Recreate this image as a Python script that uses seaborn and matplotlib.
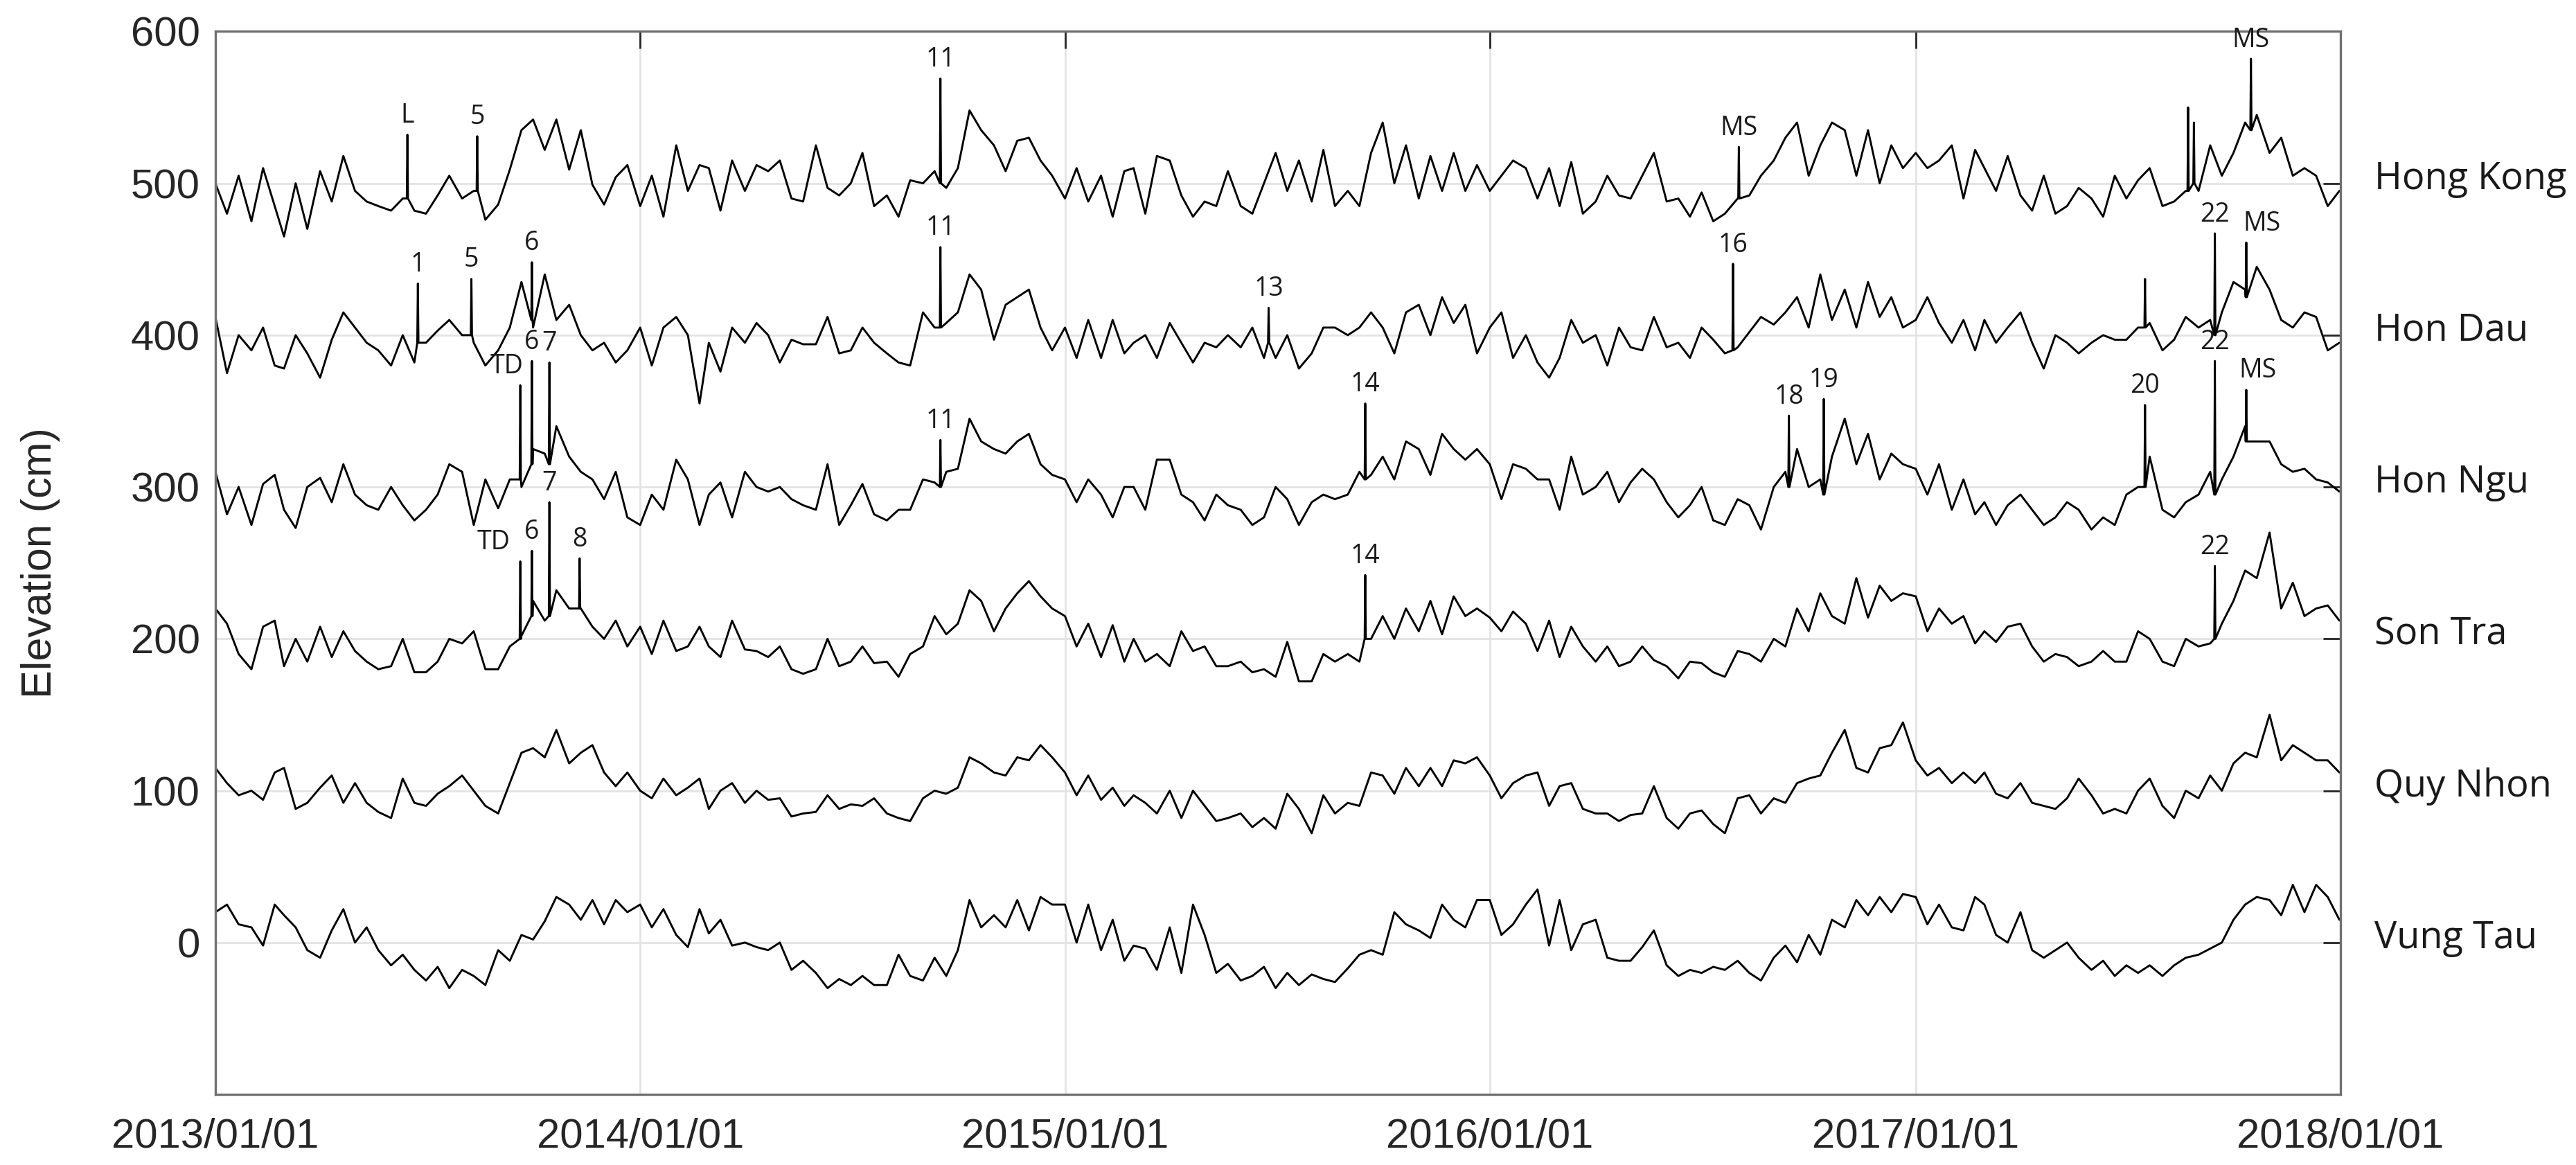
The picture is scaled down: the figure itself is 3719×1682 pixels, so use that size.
import numpy as np
import pandas as pd
import matplotlib
matplotlib.use('Agg')
import matplotlib.pyplot as plt
import matplotlib.dates as mdates
import matplotlib.transforms as mtransforms
import seaborn as sns

sns.set_style('white')
plt.rcParams['font.family'] = ['Liberation Sans', 'DejaVu Sans']

# stations, drawn stacked with a fixed vertical offset (cm)
stations = ['Hong Kong', 'Hon Dau', 'Hon Ngu', 'Son Tra', 'Quy Nhon', 'Vung Tau']
offsets = [500, 400, 300, 200, 100, 0]

# sampling dates: 1st, 11th, 21st of every month + last day
dates = [pd.Timestamp(y, m, d) for y in range(2013, 2018)
         for m in range(1, 13) for d in (1, 11, 21)]
dates.append(pd.Timestamp(2017, 12, 31))

# anomalies (cm) around each station offset, one row per year
hong_kong = (
    [0, -20, 5, -25, 10, -15, -35, 0, -30, 8, -12, 18, -5, -12, -15, -18, -10, -18,
     -20, -8, 5, -10, -5, -24, -14, 9, 35, 42, 22, 42, 9, 35, -1, -14, 4, 12]
    + [-15, 5, -22, 25, -5, 12, 10, -18, 15, -5, 12, 8, 15, -10, -12, 25, -3, -8,
       0, 20, -15, -8, -22, 2, 0, 8, -3, 10, 48, 35, 25, 8, 28, 30, 15, 5]
    + [-10, 10, -12, 5, -22, 8, 10, -20, 18, 15, -8, -22, -12, -15, 8, -15, -20, 0,
       20, -5, 15, -12, 22, -15, -5, -15, 20, 40, 0, 25, -10, 18, -5, 20, -5, 12]
    + [-5, 5, 15, 10, -10, 10, -15, 14, -20, -12, 5, -8, -10, 5, 20, -12, -10, -22,
       -6, -25, -20, -10, -8, 5, 15, 30, 40, 5, 25, 40, 35, 5, 35, 0, 25, 10]
    + [20, 10, 15, 25, -10, 22, 10, -5, 18, -8, -18, 5, -20, -15, -3, -10, -22, 5,
       -10, 2, 10, -15, -12, -5, -5, 25, 5, 20, 40, 45, 20, 30, 5, 10, 5, -15]
    + [-5])
hon_dau = (
    [12, -25, 0, -10, 5, -20, -22, 0, -12, -28, -3, 15, 5, -5, -10, -20, 0, -18,
     -5, 3, 10, 0, -5, -20, -10, 5, 35, 5, 40, 10, 20, 0, -10, -5, -18, -10]
    + [5, -20, 5, 12, 0, -45, -5, -24, 5, -5, 8, 0, -18, -3, -6, -6, 12, -12,
       -10, 5, -5, -12, -18, -20, 15, 5, 8, 15, 40, 30, -3, 20, 25, 30, 5, -10]
    + [5, -15, 10, -15, 10, -12, -5, 0, -15, 8, -5, -18, -5, -8, 0, -8, 5, -15,
       -15, 0, -22, -12, 5, 5, 0, 5, 15, 5, -12, 15, 20, 0, 25, 8, 20, -12]
    + [5, 15, -15, 0, -18, -28, -15, 10, -5, 0, -20, 5, -8, -10, 12, -8, -5, -15,
       5, -3, -12, -8, 2, 12, 7, 15, 25, 5, 40, 10, 30, 5, 35, 12, 25, 5]
    + [10, 25, 8, -5, 10, -10, 10, -5, 5, 15, -5, -22, 0, -5, -12, -5, 0, -3,
       -3, 5, 8, -10, -3, 12, 5, 10, 15, 35, 30, 45, 30, 10, 5, 15, 12, -10]
    + [-5])
hon_ngu = (
    [10, -18, 0, -25, 2, 8, -15, -27, 0, 6, -10, 15, -5, -12, -15, 0, -12, -22,
     -15, -5, 15, 10, -25, 5, -14, 5, 0, 25, 22, 40, 20, 10, 5, -8, 10, -20]
    + [-25, -5, -15, 18, 5, -25, -5, 3, -20, 10, 0, -3, 0, -8, -12, -15, 15, -25,
       -12, 2, -18, -22, -15, -15, 5, 3, 10, 12, 45, 30, 25, 22, 30, 35, 15, 8]
    + [5, -10, 5, -5, -20, 0, 0, -15, 18, 18, -5, -10, -22, -5, -12, -15, -25, -20,
       0, -8, -25, -10, -5, -8, -5, 10, 8, 20, 5, 30, 25, 8, 35, 25, 18, 25]
    + [15, -8, 15, 12, 5, 5, -15, 20, -5, 0, 10, -10, 3, 12, 5, -10, -20, -12,
       0, -22, -25, -8, -12, -28, 0, 10, 25, 0, 5, 20, 45, 15, 35, 5, 22, 15]
    + [12, -5, 15, -15, 5, -18, -10, -25, -12, -5, -15, -25, -20, -10, -15, -28, -20, -25,
       -5, 0, 20, -15, -20, -10, -5, 10, 5, 20, 40, 30, 30, 15, 10, 12, 5, 3]
    + [-3])
son_tra = (
    [20, 10, -10, -20, 8, 12, -18, 0, -15, 8, -12, 5, -8, -15, -20, -18, 0, -22,
     -22, -15, 0, -3, 5, -20, -20, -5, 2, 25, 12, 32, 20, 20, 8, 0, 12, -5]
    + [8, -10, 12, -8, -5, 8, -5, -12, 12, -7, -8, -12, -5, -20, -23, -20, 0, -18,
       -15, -5, -16, -15, -25, -10, -5, 15, 3, 10, 32, 25, 5, 20, 30, 38, 28, 20]
    + [15, -5, 10, -12, 9, -15, 0, -15, -10, -18, 5, -8, -5, -18, -18, -15, -22, -20,
       -25, -2, -28, -28, -10, -15, -10, -15, 0, 15, 0, 20, 5, 25, 3, 28, 15, 20]
    + [14, 5, 18, 10, -8, 12, -12, 8, -5, -15, -5, -18, -15, -5, -14, -18, -26, -15,
       -16, -22, -25, -8, -10, -15, 0, -5, 20, 5, 30, 15, 10, 40, 14, 35, 25, 30]
    + [28, 5, 20, 10, 15, -3, 5, -2, 8, 10, -5, -15, -10, -12, -18, -15, -8, -15,
       -15, 5, 0, -15, -18, 0, -5, -3, 10, 25, 45, 40, 70, 20, 37, 15, 20, 22]
    + [12])
quy_nhon = (
    [15, 5, -3, 0, -6, 12, 15, -12, -8, 2, 10, -8, 5, -8, -14, -18, 8, -8,
     -10, -2, 3, 10, 0, -10, -15, 5, 25, 28, 22, 40, 18, 25, 30, 12, 3, 12]
    + [0, -5, 8, -3, 2, 8, -12, 0, 5, -8, 0, -6, -5, -17, -15, -14, -3, -12,
       -9, -10, -5, -15, -18, -20, -5, 0, -2, 2, 22, 18, 12, 10, 22, 20, 30, 22]
    + [12, -3, 10, -6, 2, -10, -3, -8, -15, 0, -18, 0, -10, -20, -18, -15, -24, -18,
       -25, -2, -12, -28, -3, -15, -8, -10, 12, 10, -2, 15, 3, 15, 3, 20, 18, 22]
    + [10, -5, 5, 10, 12, -10, 3, 5, -12, -15, -15, -20, -16, -15, 3, -18, -25, -15,
       -13, -22, -28, -5, -3, -15, -5, -8, 5, 8, 10, 25, 40, 15, 12, 28, 30, 45]
    + [20, 10, 15, 5, 12, 5, 12, -2, -5, 5, -8, -10, -12, -5, 8, -3, -15, -12,
       -15, 0, 8, -10, -18, 0, -5, 10, 0, 18, 25, 22, 50, 20, 30, 25, 20, 20]
    + [12])
vung_tau = (
    [20, 25, 12, 10, -2, 25, 18, 10, -5, -10, 8, 22, 0, 10, -5, -15, -8, -18,
     -25, -16, -30, -18, -22, -28, -5, -12, 5, 2, 14, 30, 25, 15, 28, 12, 28, 20]
    + [25, 10, 22, 5, -3, 22, 6, 15, -2, 0, -3, -5, 0, -18, -12, -20, -30, -24,
       -28, -22, -28, -28, -8, -22, -25, -10, -22, -5, 28, 10, 18, 10, 28, 8, 30, 25]
    + [25, 0, 25, -5, 15, -12, -2, -4, -18, 10, -20, 25, 5, -20, -14, -25, -22, -16,
       -30, -20, -28, -21, -24, -26, -17, -8, -5, -8, 20, 12, 8, 3, 25, 15, 10, 28]
    + [28, 5, 12, 25, 35, -2, 28, -5, 12, 15, -10, -12, -12, -3, 8, -15, -22, -18,
       -20, -16, -18, -12, -20, -25, -10, -2, -13, 5, -8, 15, 10, 28, 18, 30, 20, 32]
    + [30, 12, 25, 10, 8, 30, 25, 5, 0, 20, -5, -10, -5, 0, -10, -18, -12, -22,
       -15, -20, -15, -22, -15, -10, -8, -4, 0, 15, 25, 30, 28, 18, 38, 20, 38, 30]
    + [15])

series = [hong_kong, hon_dau, hon_ngu, son_tra, quy_nhon, vung_tau]

# storm / surge peaks: station, date, peak anomaly, surrounding level, label
event_station = ['Hong Kong', 'Hong Kong', 'Hong Kong', 'Hong Kong', 'Hong Kong', 'Hong Kong', 'Hong Kong',
                 'Hon Dau', 'Hon Dau', 'Hon Dau', 'Hon Dau', 'Hon Dau', 'Hon Dau', 'Hon Dau', 'Hon Dau', 'Hon Dau',
                 'Hon Ngu', 'Hon Ngu', 'Hon Ngu', 'Hon Ngu', 'Hon Ngu', 'Hon Ngu', 'Hon Ngu', 'Hon Ngu', 'Hon Ngu', 'Hon Ngu',
                 'Son Tra', 'Son Tra', 'Son Tra', 'Son Tra', 'Son Tra', 'Son Tra']
event_date = ['2013-06-15', '2013-08-14', '2014-09-16', '2016-08-02', '2017-08-23', '2017-08-28', '2017-10-16',
              '2013-06-24', '2013-08-09', '2013-09-30', '2014-09-16', '2015-06-25', '2016-07-28', '2017-07-17',
              '2017-09-15', '2017-10-12',
              '2013-09-20', '2013-09-30', '2013-10-15', '2014-09-16', '2015-09-16', '2016-09-14', '2016-10-14',
              '2017-07-17', '2017-09-15', '2017-10-12',
              '2013-09-20', '2013-09-30', '2013-10-15', '2013-11-10', '2015-09-16', '2017-09-15']
event_peak = [32, 31, 69, 24, 50, 40, 82,
              34, 37, 48, 58, 18, 47, 37, 67, 61,
              67, 83, 82, 31, 55, 47, 58, 54, 83, 64,
              51, 58, 90, 53, 42, 48]
event_base = [-10, -5, 0, -10, -5, 0, 35,
              -5, 0, 10, 5, -5, -10, 5, 0, 25,
              5, 15, 15, 0, 5, 0, -5, 0, -5, 30,
              0, 15, 15, 20, 0, 0]
event_label = ['L', '5', '11', 'MS', '', '', 'MS',
               '1', '5', '6', '11', '13', '16', '', '22', 'MS',
               'TD', '6', '7', '11', '14', '18', '19', '20', '22', 'MS',
               'TD', '6', '7', '8', '14', '22']

# build long table
rows = []
for name, off, vals in zip(stations, offsets, series):
    assert len(vals) == len(dates)
    for d, v in zip(dates, vals):
        rows.append((name, d, v + off))
half = pd.Timedelta(hours=12)
for name, d, pk, bs in zip(event_station, event_date, event_peak, event_base):
    off = offsets[stations.index(name)]
    d = pd.Timestamp(d)
    rows += [(name, d - half, bs + off), (name, d, pk + off), (name, d + half, bs + off)]
df = pd.DataFrame(rows, columns=['station', 'date', 'elev'])

fig, ax = plt.subplots(figsize=(18.595, 8.41), dpi=200)
fig.subplots_adjust(left=0.0836, right=0.9086, top=0.973, bottom=0.0606)

sns.lineplot(data=df, x='date', y='elev', units='station', estimator=None,
             color='black', lw=1.05, ax=ax, legend=False)

# event labels
nudge = {('Hon Ngu', 'TD'): -7, ('Son Tra', 'TD'): -14, ('Hon Dau', 'MS'): 8,
         ('Hon Ngu', 'MS'): 6}
for name, d, pk, lab in zip(event_station, event_date, event_peak, event_label):
    if not lab:
        continue
    off = offsets[stations.index(name)]
    ax.annotate(lab, (pd.Timestamp(d), pk + off), xytext=(nudge.get((name, lab), 0), 3),
                textcoords='offset points', ha='center', va='bottom',
                fontsize=13.5, family=['Open Sans', 'DejaVu Sans'], color='#1a1a1a')

# station names on the right
trans = mtransforms.blended_transform_factory(ax.transAxes, ax.transData)
for name, off in zip(stations, offsets):
    ax.text(1.016, off + 3, name, transform=trans, ha='left', va='center',
            fontsize=19.5, family=['Open Sans', 'DejaVu Sans'], color='#1a1a1a')

ax.set_xlim(pd.Timestamp('2013-01-01'), pd.Timestamp('2018-01-01'))
ax.set_ylim(-100, 600)
ax.set_yticks(range(0, 601, 100))
ax.set_xticks([pd.Timestamp(f'{y}-01-01') for y in range(2013, 2019)])
ax.xaxis.set_major_formatter(mdates.DateFormatter('%Y/%m/%d'))
ax.grid(True, color='#e3e3e3', lw=1.0)
ax.set_axisbelow(True)
ax.tick_params(axis='both', direction='in', length=9, width=1.0, color='#262626',
               labelcolor='#262626', labelsize=21.5, top=True, right=True)
ax.tick_params(axis='x', pad=12)
ax.tick_params(axis='y', pad=8)
for sp in ax.spines.values():
    sp.set_color('#707070')
    sp.set_linewidth(1.2)

ax.set_xlabel('')
ax.set_ylabel('Elevation (cm)', fontsize=22, color='#262626')
ax.yaxis.set_label_coords(-0.073, 0.5)

fig.savefig('out.png', dpi=200)
